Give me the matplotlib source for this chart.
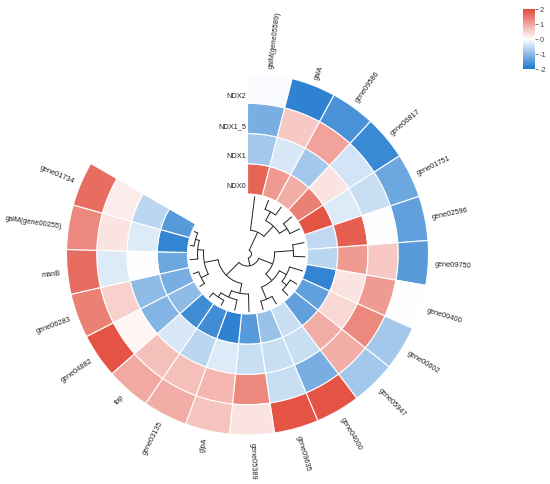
import numpy as np
import matplotlib
matplotlib.use("Agg")
import matplotlib.pyplot as plt
from matplotlib.colors import LinearSegmentedColormap, Normalize
from matplotlib.cm import ScalarMappable

plt.rcParams['font.family'] = ['Liberation Sans', 'DejaVu Sans']
plt.rcParams['axes.unicode_minus'] = False

# ---------------- data ----------------
genes = ["galM(gene05589)", "galA", "gene09586", "gene06817", "gene01751",
         "gene02596", "gene09750", "gene00400", "gene00602", "gene05947",
         "gene04000", "gene09635", "gene05389", "glpA", "gene03135", "fbp",
         "gene04882", "gene06283", "manB", "galM(gene00255)", "gene01734"]
rows = ["NDX0", "NDX1", "NDX1_5", "NDX2"]   # inner -> outer
ndx0 = [1.7, 1.1, 0.9, 1.4, 1.9, -0.55, -0.6, -1.8, -1.4, -1.4, -0.5,
        -0.9, -1.5, -1.85, -1.7, -1.7, -1.0, -1.2, -1.3, -1.8, -1.5]
ndx1 = [-0.8, -0.35, -0.8, 0.3, -0.3, 1.75, 1.1, 0.3, 0.45, 0.9, -0.5,
        -0.5, -0.5, -0.3, -0.6, -0.35, -1.1, -1.0, 0.0, -0.3, -0.6]
ndx1_5 = [-1.2, 0.6, 1.0, -0.4, -0.5, 0.0, 0.6, 1.1, 1.3, 0.9, -1.2,
          -0.5, 1.3, 0.8, 0.7, 0.7, 0.1, 0.5, -0.3, 0.3, 0.2]
ndx2 = [-0.05, -1.85, -1.6, -1.75, -1.3, -1.4, -1.5, 0.0, -0.8, -0.8, 1.9,
        1.9, 0.3, 0.65, 0.9, 0.95, 1.9, 1.4, 1.6, 1.3, 1.6]
# dendrogram merges: (child a, child b, height as radius); ids >= 21 are merges
merges = [(1, 2, 48), (3, 4, 47), (21, 22, 38), (0, 23, 24),
          (5, 6, 46), (8, 9, 50), (7, 26, 44), (10, 11, 49), (27, 28, 36),
          (25, 29, 27), (14, 15, 52), (13, 31, 47), (12, 32, 40),
          (19, 20, 54), (18, 34, 50), (16, 17, 52), (36, 35, 44),
          (33, 37, 30), (30, 38, 12), (24, 39, 4)]
cbar_ticks = [-2, -1, 0, 1, 2]
col_low, col_mid, col_high = "#1E78CE", "#FFFFFF", "#E34A3A"

cmap = LinearSegmentedColormap.from_list("bwr2", [col_low, col_mid, col_high], N=256)
norm = Normalize(-2, 2)

# ---------------- figure ----------------
W, H = 550, 485
fig = plt.figure(figsize=(W / 100, H / 100), dpi=100)
cx, cy, RMAX = 247.5, 255, 200
ax = fig.add_axes([(cx - RMAX) / W, (H - cy - RMAX) / H, 2 * RMAX / W, 2 * RMAX / H],
                  projection='polar')
ax.set_theta_zero_location('N')
ax.set_theta_direction(-1)
ax.set_ylim(0, RMAX)
ax.axis('off')

n = len(genes)
span = np.deg2rad(300)
w = span / n
theta = (np.arange(n) + 0.5) * w
r_in, ring_w = 60.0, 30.25

values = [ndx0, ndx1, ndx1_5, ndx2]
for k, vals in enumerate(values):
    ax.bar(theta, ring_w, width=w, bottom=r_in + k * ring_w,
           color=cmap(norm(np.asarray(vals))), edgecolor='white', linewidth=0.8,
           align='center')

# row labels in the gap
for k, name in enumerate(rows):
    ax.annotate(name, xy=(0, r_in + (k + 0.5) * ring_w), xytext=(-1.5, -7),
                textcoords='offset pixels', ha='right', va='center',
                fontsize=5.3, color='#222222')

# gene labels
r_lab = r_in + 4 * ring_w + 7
for th, g in zip(theta, genes):
    phi = 90 - np.rad2deg(th)
    if np.cos(np.deg2rad(phi)) >= 0:
        rot, ha = phi, 'left'
    else:
        rot, ha = phi + 180, 'right'
    ax.text(th, r_lab, g, rotation=rot, rotation_mode='anchor', ha=ha,
            va='center', fontsize=5.3, color='#222222')

# dendrogram
r_leaf = 58
pos = {i: (theta[i], r_leaf) for i in range(n)}
lc, lw = '#222222', 0.7
for j, (a, b, h) in enumerate(merges):
    ta, ra = pos[a]
    tb, rb = pos[b]
    ax.plot([ta, ta], [ra, h], color=lc, lw=lw, solid_capstyle='butt')
    ax.plot([tb, tb], [rb, h], color=lc, lw=lw, solid_capstyle='butt')
    arc = np.linspace(min(ta, tb), max(ta, tb), 60)
    ax.plot(arc, np.full_like(arc, h), color=lc, lw=lw)
    pos[n + j] = ((ta + tb) / 2, h)

# colour bar
cax = fig.add_axes([523 / W, 1 - 70 / H, 11.5 / W, 60 / H])
cb = fig.colorbar(ScalarMappable(norm=norm, cmap=cmap), cax=cax, ticks=cbar_ticks)
cb.outline.set_visible(False)
cax.tick_params(labelsize=5.3, length=2, width=0.5, pad=1.5, colors='#444444')
cb.ax.set_yticklabels([str(t) for t in cbar_ticks])

fig.savefig("out.png", dpi=100)
